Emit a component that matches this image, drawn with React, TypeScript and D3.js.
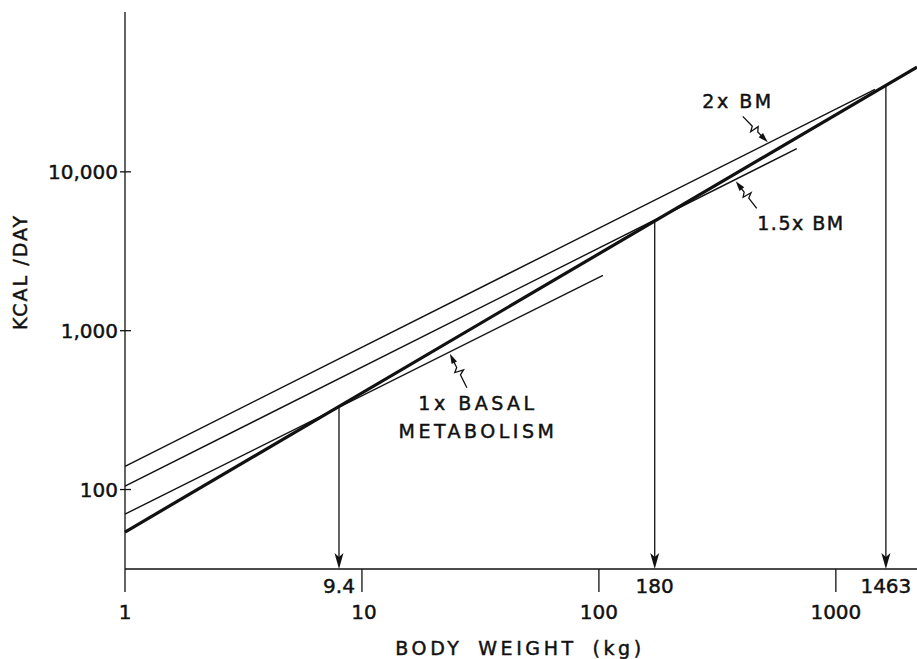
import React, { useEffect, useRef } from 'react';
import * as d3 from 'd3';

// axis ticks
const xTicks = [1, 10, 100, 1000];
const xTickLabels = ['1', '10', '100', '1000'];
const yTicks = [100, 1000, 10000];
const yTickLabels = ['100', '1,000', '10,000'];

// lines: [start, end] body weight (kg) and kcal/day
const needWeight = [1, 2200];
const needKcal = [54, 45700];
const bm1Weight = [1, 104];
const bm1Kcal = [70, 2230];
const bm15Weight = [1, 684];
const bm15Kcal = [105, 14000];
const bm2Weight = [1, 1463];
const bm2Kcal = [140, 33000];

// crossing points marked with arrows
const crossLabels = ['9.4', '180', '1463'];
const crossWeights = [8.0, 172, 1626];

// where the wavy pointers touch their line (kg)
const pointerWeights = [23.5, 378, 516];

const W = 917;
const H = 659;
const FONT = '"DejaVu Sans", sans-serif';
const INK = '#111';

const App = () => {
    const ref = useRef<SVGSVGElement>(null);

    useEffect(() => {
        const svg = d3.select(ref.current);
        svg.selectAll('*').remove();

        const x = d3.scaleLog().domain([1, 2200]).range([125, 917]);
        const y = d3.scaleLog().domain([31.6, 100000]).range([569, 13]);
        const axisY = y(31.6);

        // power-law line in log-log space
        const lineFn = (ws: number[], ks: number[]) => {
            const s = d3.scaleLinear()
                .domain(ws.map(Math.log10))
                .range(ks.map(Math.log10));
            return (w: number) => Math.pow(10, s(Math.log10(w)));
        };

        const line = d3.line<number[]>()
            .x(d => x(d[0]))
            .y(d => y(d[1]));

        // lettering is a bit heavier than the regular face
        const letter = (sel: any, size: number) => sel
            .attr('font-family', FONT)
            .attr('font-size', size)
            .attr('fill', INK)
            .attr('stroke', INK)
            .attr('stroke-width', 0.45);

        // axes
        svg.append('line')
            .attr('x1', 125).attr('x2', 125).attr('y1', 12).attr('y2', 592)
            .attr('stroke', INK).attr('stroke-width', 1.3);
        svg.append('line')
            .attr('x1', 125).attr('x2', 917).attr('y1', axisY).attr('y2', axisY)
            .attr('stroke', INK).attr('stroke-width', 1.3);

        svg.selectAll('.ytick')
            .data(yTicks)
            .enter()
            .append('line')
            .attr('x1', 120).attr('x2', 131)
            .attr('y1', d => y(d)).attr('y2', d => y(d))
            .attr('stroke', INK).attr('stroke-width', 1.3);

        letter(svg.selectAll('.ylabel')
            .data(yTicks)
            .enter()
            .append('text')
            .attr('x', 118)
            .attr('y', d => y(d))
            .attr('dy', '0.36em')
            .attr('text-anchor', 'end'), 20)
            .text((d, i) => yTickLabels[i]);

        svg.selectAll('.xtick')
            .data(xTicks.slice(1))
            .enter()
            .append('line')
            .attr('x1', d => x(d)).attr('x2', d => x(d))
            .attr('y1', axisY).attr('y2', 592)
            .attr('stroke', INK).attr('stroke-width', 1.3);

        letter(svg.selectAll('.xlabel')
            .data(xTicks)
            .enter()
            .append('text')
            .attr('x', d => x(d) + (d === 10 ? 2 : 0))
            .attr('y', 619)
            .attr('text-anchor', 'middle'), 20)
            .text((d, i) => xTickLabels[i]);

        // axis titles
        letter(svg.append('text')
            .attr('transform', 'translate(27,272) rotate(-90)')
            .attr('text-anchor', 'middle')
            .attr('letter-spacing', 2), 19)
            .text('KCAL /DAY');

        letter(svg.append('text')
            .attr('x', 520)
            .attr('y', 655)
            .attr('text-anchor', 'middle')
            .attr('letter-spacing', 3.6)
            .attr('word-spacing', 6), 19)
            .text('BODY WEIGHT (kg)');

        // lines
        const series = [
            { w: bm2Weight, k: bm2Kcal, sw: 1.4 },
            { w: bm15Weight, k: bm15Kcal, sw: 1.4 },
            { w: bm1Weight, k: bm1Kcal, sw: 1.4 },
            { w: needWeight, k: needKcal, sw: 3.2 },
        ];
        svg.selectAll('.series')
            .data(series)
            .enter()
            .append('path')
            .attr('d', s => line(s.w.map((w, i) => [w, s.k[i]])))
            .attr('fill', 'none')
            .attr('stroke', INK)
            .attr('stroke-width', s => s.sw);

        // vertical arrows from the thick line down to the axis
        const need = lineFn(needWeight, needKcal);
        crossWeights.forEach((w, i) => {
            const cx = x(w);
            svg.append('line')
                .attr('x1', cx).attr('x2', cx)
                .attr('y1', y(need(w))).attr('y2', axisY - 10)
                .attr('stroke', INK).attr('stroke-width', 1.3);
            svg.append('path')
                .attr('d', `M${cx},${axisY} L${cx - 4.5},${axisY - 16} L${cx},${axisY - 12} L${cx + 4.5},${axisY - 16} Z`)
                .attr('fill', INK);
            letter(svg.append('text')
                .attr('x', cx)
                .attr('y', 593)
                .attr('text-anchor', 'middle'), 20)
                .text(crossLabels[i]);
        });

        // wavy pointers with labels
        const pointerLines = [
            { f: lineFn(bm1Weight, bm1Kcal), dx: 17, dy: 34 },
            { f: lineFn(bm15Weight, bm15Kcal), dx: 21, dy: 27 },
            { f: lineFn(bm2Weight, bm2Kcal), dx: -25, dy: -26 },
        ];
        pointerLines.forEach((p, i) => {
            const w = pointerWeights[i];
            const tx = x(w);
            const ty = y(p.f(w)) + (p.dy > 0 ? 2 : -1);
            const sx = tx + p.dx;
            const sy = ty + p.dy;
            const len = Math.hypot(tx - sx, ty - sy);
            const ux = (tx - sx) / len;
            const uy = (ty - sy) / len;
            const px = -uy;
            const py = ux;
            const at = (t: number, o: number) => [sx + ux * len * t + px * o, sy + uy * len * t + py * o];
            const pts = [at(0, 0), at(0.38, 0), at(0.46, 5), at(0.5, -4), at(0.6, 0), at(1 - 8 / len, 0)];
            svg.append('path')
                .attr('d', d3.line()(pts as [number, number][]))
                .attr('fill', 'none')
                .attr('stroke', INK)
                .attr('stroke-width', 1.3);
            const b = at(1 - 10 / len, 0);
            svg.append('path')
                .attr('d', `M${tx},${ty} L${b[0] + px * 3},${b[1] + py * 3} L${b[0] - px * 3},${b[1] - py * 3} Z`)
                .attr('fill', INK);
        });

        const notes = [
            { text: '1x BASAL', x: 478, y: 410, ls: 3.5 },
            { text: 'METABOLISM', x: 478, y: 438, ls: 3.5 },
            { text: '1.5x BM', x: 801, y: 230, ls: 1.5 },
            { text: '2x BM', x: 738, y: 108, ls: 2.5 },
        ];
        letter(svg.selectAll('.note')
            .data(notes)
            .enter()
            .append('text')
            .attr('x', d => d.x)
            .attr('y', d => d.y)
            .attr('text-anchor', 'middle')
            .attr('letter-spacing', d => d.ls), 19)
            .text(d => d.text);
    }, []);

    return (
        <svg
            ref={ref}
            width={W}
            height={H}
            style={{ position: 'absolute', left: 0, top: 0, background: '#fff' }}
        ></svg>
    );
};

export default App;
